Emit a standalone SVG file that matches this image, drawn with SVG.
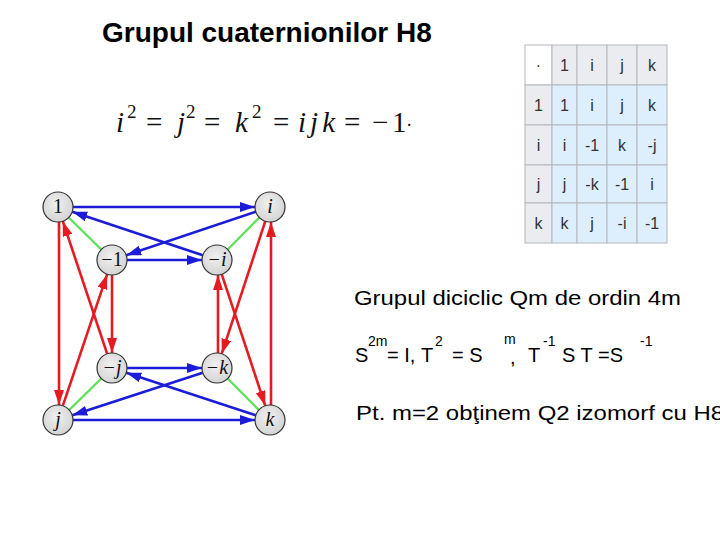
<svg xmlns="http://www.w3.org/2000/svg" width="720" height="540" viewBox="0 0 720 540">
<defs>
<style>
.title{font-family:"Liberation Sans",Arial,sans-serif;font-weight:bold;font-size:28px;fill:#000}
.body{font-family:"Liberation Sans",Arial,sans-serif;font-size:20px;fill:#000}
.sup{font-family:"Liberation Sans",Arial,sans-serif;font-size:14px;fill:#000}
.m{font-family:"Liberation Serif","Times New Roman",serif;font-size:29px;fill:#111}
.mi{font-family:"Liberation Serif","Times New Roman",serif;font-style:italic;font-size:29px;fill:#111}
.ms{font-family:"Liberation Serif","Times New Roman",serif;font-size:19px;fill:#111}
.cell{stroke:#b4b8bd;stroke-width:1}
.hd{fill:#eaecef}
.bd{fill:#ddeefc}
.ct{font-family:"Liberation Sans",Arial,sans-serif;font-size:16px;fill:#333;text-anchor:middle}
.node circle{fill:url(#ng);stroke:#333;stroke-width:1.2}
.node text{font-family:"Liberation Serif","Times New Roman",serif;font-style:italic;font-size:20px;fill:#111;text-anchor:middle}
.blue{stroke:#1c1cd8;stroke-width:2.6;fill:none;marker-end:url(#ab)}
.red{stroke:#e51b22;stroke-width:2.6;fill:none;marker-end:url(#ar)}
.green{stroke:#5fe05a;stroke-width:2.4;fill:none}
</style>
<radialGradient id="ng" cx="0.45" cy="0.4" r="0.7">
<stop offset="0" stop-color="#f0f0f0"/>
<stop offset="1" stop-color="#cfcfcf"/>
</radialGradient>
<marker id="ab" markerUnits="userSpaceOnUse" markerWidth="16" markerHeight="12" refX="15" refY="5" orient="auto">
<path d="M0,0 L15,5 L0,10 Z" fill="#1c1cd8"/>
</marker>
<marker id="ar" markerUnits="userSpaceOnUse" markerWidth="16" markerHeight="12" refX="15" refY="5" orient="auto">
<path d="M0,0 L15,5 L0,10 Z" fill="#e51b22"/>
</marker>
</defs>
<rect width="720" height="540" fill="#fff"/>

<text class="title" x="102" y="42">Grupul cuaternionilor H8</text>

<g id="formula">
<text class="mi" x="116" y="132">i</text>
<text class="ms" x="127" y="118">2</text>
<text class="m" x="146" y="132">=</text>
<text class="mi" x="177" y="132">j</text>
<text class="ms" x="186" y="118">2</text>
<text class="m" x="204" y="132">=</text>
<text class="mi" x="235" y="132">k</text>
<text class="ms" x="252" y="118">2</text>
<text class="m" x="273" y="132">=</text>
<text class="mi" x="298" y="132" textLength="37" lengthAdjust="spacing">ijk</text>
<text class="m" x="344" y="132">=</text>
<text class="m" x="372" y="132">−</text>
<text class="m" x="392" y="132">1</text>
<text class="ms" x="406" y="131">·</text>
</g>

<g id="table">
<rect class="cell" x="525" y="45" width="27" height="40" fill="#fff"/>
<rect class="cell hd" x="552" y="45" width="25" height="40"/>
<rect class="cell hd" x="577" y="45" width="30" height="40"/>
<rect class="cell hd" x="607" y="45" width="30" height="40"/>
<rect class="cell hd" x="637" y="45" width="30" height="40"/>
<rect class="cell hd" x="525" y="85" width="27" height="40"/>
<rect class="cell hd" x="525" y="125" width="27" height="40"/>
<rect class="cell hd" x="525" y="165" width="27" height="38"/>
<rect class="cell hd" x="525" y="203" width="27" height="40"/>
<g class="bd">
<rect class="cell" x="552" y="85" width="25" height="40"/><rect class="cell" x="577" y="85" width="30" height="40"/><rect class="cell" x="607" y="85" width="30" height="40"/><rect class="cell" x="637" y="85" width="30" height="40"/>
<rect class="cell" x="552" y="125" width="25" height="40"/><rect class="cell" x="577" y="125" width="30" height="40"/><rect class="cell" x="607" y="125" width="30" height="40"/><rect class="cell" x="637" y="125" width="30" height="40"/>
<rect class="cell" x="552" y="165" width="25" height="38"/><rect class="cell" x="577" y="165" width="30" height="38"/><rect class="cell" x="607" y="165" width="30" height="38"/><rect class="cell" x="637" y="165" width="30" height="38"/>
<rect class="cell" x="552" y="203" width="25" height="40"/><rect class="cell" x="577" y="203" width="30" height="40"/><rect class="cell" x="607" y="203" width="30" height="40"/><rect class="cell" x="637" y="203" width="30" height="40"/>
</g>
<text class="ct" x="538.5" y="71">·</text><text class="ct" x="564.5" y="71">1</text><text class="ct" x="592" y="71">i</text><text class="ct" x="622" y="71">j</text><text class="ct" x="652" y="71">k</text>
<text class="ct" x="538.5" y="111">1</text><text class="ct" x="564.5" y="111">1</text><text class="ct" x="592" y="111">i</text><text class="ct" x="622" y="111">j</text><text class="ct" x="652" y="111">k</text>
<text class="ct" x="538.5" y="151">i</text><text class="ct" x="564.5" y="151">i</text><text class="ct" x="592" y="151">-1</text><text class="ct" x="622" y="151">k</text><text class="ct" x="652" y="151">-j</text>
<text class="ct" x="538.5" y="190">j</text><text class="ct" x="564.5" y="190">j</text><text class="ct" x="592" y="190">-k</text><text class="ct" x="622" y="190">-1</text><text class="ct" x="652" y="190">i</text>
<text class="ct" x="538.5" y="229">k</text><text class="ct" x="564.5" y="229">k</text><text class="ct" x="592" y="229">j</text><text class="ct" x="622" y="229">-i</text><text class="ct" x="652" y="229">-1</text>
</g>

<g id="connectors">
<line class="green" x1="68.7" y1="217.5" x2="101.3" y2="249.5"/>
<line class="green" x1="259.3" y1="217.5" x2="227.7" y2="249.5"/>
<line class="green" x1="101.3" y1="378.5" x2="68.7" y2="410.5"/>
<line class="green" x1="227.7" y1="378.5" x2="259.3" y2="410.5"/>
<line class="blue" x1="73" y1="207" x2="255" y2="207"/>
<line class="blue" x1="202.8" y1="255.3" x2="72.2" y2="211.7"/>
<line class="blue" x1="255.8" y1="211.8" x2="126.2" y2="255.2"/>
<line class="blue" x1="127" y1="260" x2="202" y2="260"/>
<line class="blue" x1="127" y1="368" x2="202" y2="368"/>
<line class="blue" x1="255.7" y1="415.3" x2="126.3" y2="372.7"/>
<line class="blue" x1="202.7" y1="372.7" x2="72.3" y2="415.3"/>
<line class="blue" x1="73" y1="420" x2="255" y2="420"/>
<line class="red" x1="59" y1="222" x2="59" y2="405"/>
<line class="red" x1="107.2" y1="353.8" x2="62.8" y2="221.2"/>
<line class="red" x1="62.8" y1="405.8" x2="107.2" y2="274.2"/>
<line class="red" x1="112" y1="275" x2="112" y2="353"/>
<line class="red" x1="218" y1="353" x2="218" y2="275"/>
<line class="red" x1="265.3" y1="221.2" x2="221.7" y2="353.8"/>
<line class="red" x1="221.7" y1="274.2" x2="265.3" y2="405.8"/>
<line class="red" x1="271" y1="405" x2="271" y2="222"/>
</g>

<g id="n1" class="node"><circle cx="58" cy="207" r="15"/><text x="58" y="213" style="font-style:normal">1</text></g>
<g id="ni" class="node"><circle cx="270" cy="207" r="15"/><text x="270" y="213">i</text></g>
<g id="nm1" class="node"><circle cx="112" cy="260" r="15"/><text x="112" y="266" style="font-style:normal">−1</text></g>
<g id="nmi" class="node"><circle cx="217" cy="260" r="15"/><text x="217" y="266">−i</text></g>
<g id="nmj" class="node"><circle cx="112" cy="368" r="15"/><text x="112" y="374">−j</text></g>
<g id="nmk" class="node"><circle cx="217" cy="368" r="15"/><text x="217" y="374">−k</text></g>
<g id="nj" class="node"><circle cx="58" cy="420" r="15"/><text x="58" y="426">j</text></g>
<g id="nk" class="node"><circle cx="270" cy="420" r="15"/><text x="270" y="426">k</text></g>

<g id="text-right">
<text class="body" x="354" y="305" textLength="327" lengthAdjust="spacingAndGlyphs">Grupul diciclic Qm de ordin 4m</text>
<text class="body" x="355" y="362">S</text>
<text class="sup" x="368" y="346">2m</text>
<text class="body" x="387" y="362">= I,</text>
<text class="body" x="421" y="362">T</text>
<text class="sup" x="435" y="346">2</text>
<text class="body" x="452" y="362">= S</text>
<text class="sup" x="504" y="344">m</text>
<text class="body" x="510" y="364">,</text>
<text class="body" x="528" y="362">T</text>
<text class="sup" x="543" y="346">-1</text>
<text class="body" x="562" y="362">S T =S</text>
<text class="sup" x="640" y="346">-1</text>
<text class="body" x="356" y="420" textLength="368" lengthAdjust="spacingAndGlyphs">Pt. m=2 obţinem Q2 izomorf cu H8</text>
</g>
</svg>
